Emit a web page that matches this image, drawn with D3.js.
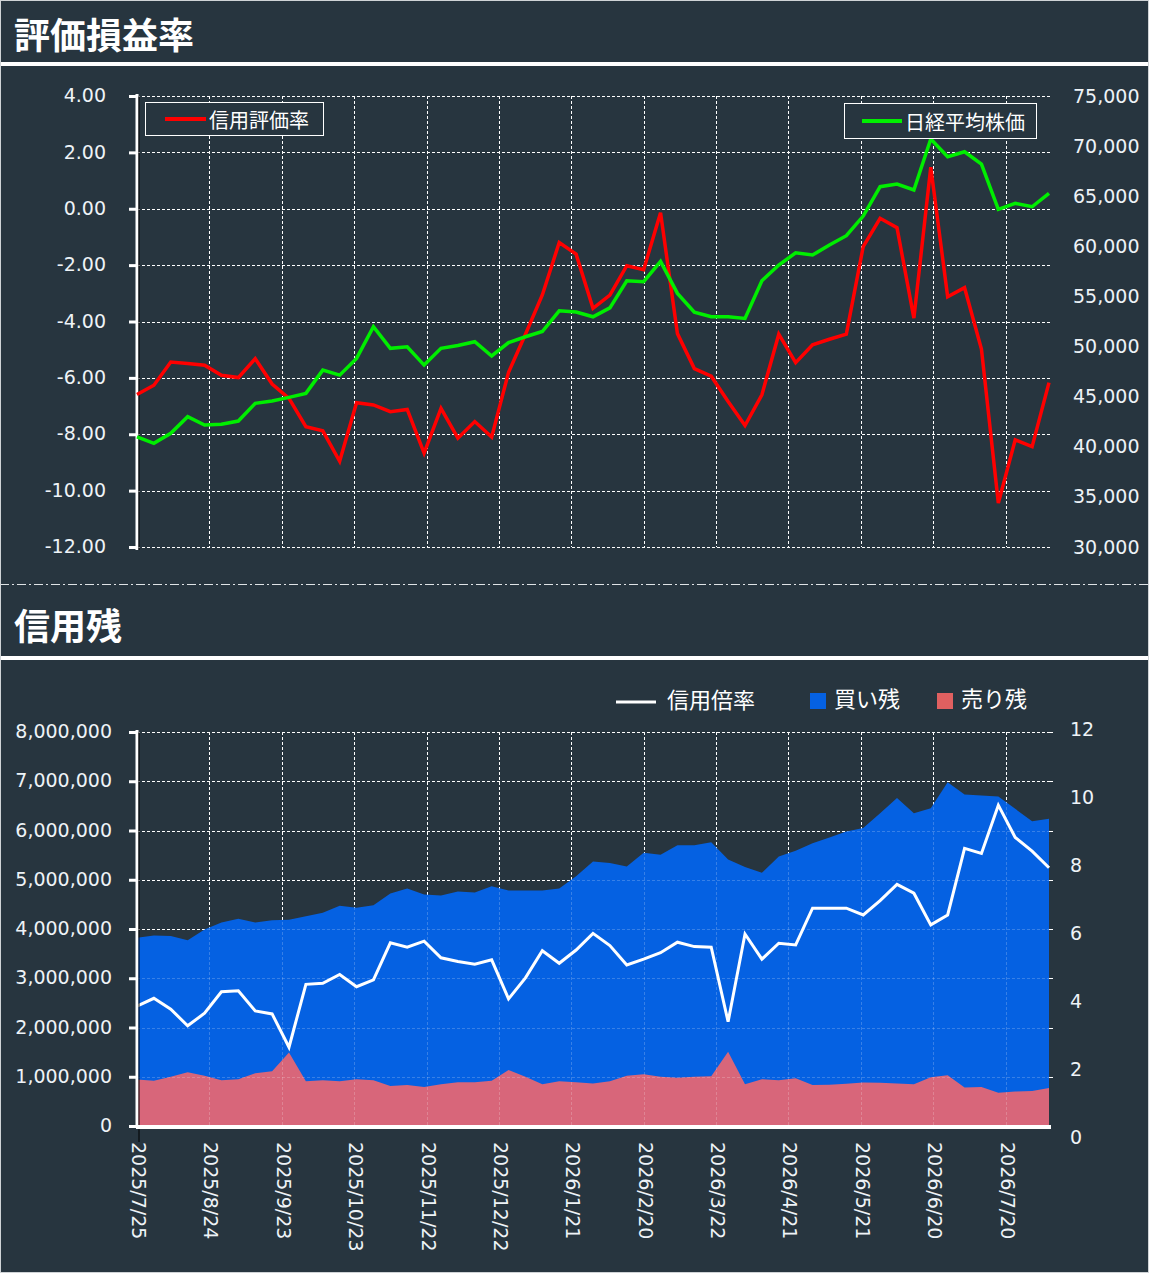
<!DOCTYPE html>
<html>
<head>
<meta charset="utf-8">
<script src="https://cdn.jsdelivr.net/npm/d3@7/dist/d3.min.js"></script>
<style>
  html, body { margin: 0; padding: 0; background: #27353f; }
  svg { display: block; }
  .num { font-family: "DejaVu Sans", sans-serif; font-size: 19px; fill: #eef3f7; }
  .jp { font-family: "Noto Sans CJK JP", sans-serif; fill: #ffffff; }
</style>
</head>
<body>
<svg id="chart" width="1149" height="1273"></svg>
<script>
// ---------------- DATA ----------------
const dates = [
  "2025-07-25","2025-08-01","2025-08-08","2025-08-15","2025-08-22","2025-08-29","2025-09-05","2025-09-12",
  "2025-09-19","2025-09-26","2025-10-03","2025-10-10","2025-10-17","2025-10-24","2025-10-31","2025-11-07",
  "2025-11-14","2025-11-21","2025-11-28","2025-12-05","2025-12-12","2025-12-19","2025-12-26","2026-01-02",
  "2026-01-09","2026-01-16","2026-01-23","2026-01-30","2026-02-06","2026-02-13","2026-02-20","2026-02-27",
  "2026-03-06","2026-03-13","2026-03-20","2026-03-27","2026-04-03","2026-04-10","2026-04-17","2026-04-24",
  "2026-05-01","2026-05-08","2026-05-15","2026-05-22","2026-05-29","2026-06-05","2026-06-12","2026-06-19",
  "2026-06-26","2026-07-03","2026-07-10","2026-07-17","2026-07-24","2026-07-31","2026-08-07"
];
// 信用評価率 (%)
const marginRate = [
  -6.59,-6.26,-5.44,-5.49,-5.55,-5.91,-5.99,-5.32,-6.22,-6.73,
  -7.73,-7.88,-8.96,-6.88,-6.96,-7.20,-7.12,-8.67,-7.08,-8.14,
  -7.55,-8.10,-5.80,-4.45,-3.06,-1.20,-1.61,-3.53,-3.06,-2.02,
  -2.16,-0.14,-4.43,-5.67,-5.94,-6.84,-7.69,-6.60,-4.45,-5.46,
  -4.83,-4.63,-4.45,-1.34,-0.34,-0.67,-3.88,1.47,-3.12,-2.80,
  -4.98,-10.44,-8.20,-8.44,-6.17
];
// 日経平均株価
const nikkei = [
  41000,40340,41340,43000,42170,42240,42570,44330,44560,44930,
  45330,47650,47150,48820,51980,49820,49980,48150,49820,50100,
  50480,49060,50400,50980,51500,53570,53440,52970,53860,56570,
  56470,58500,55300,53440,52970,52970,52810,56570,58130,59360,
  59130,60130,61060,63020,65950,66220,65620,70710,68940,69440,
  68210,63690,64290,63950,65290
];
// 買い残 (株)
const buyBalance = [
  3820000,3870000,3860000,3770000,3990000,4130000,4210000,4130000,4180000,4190000,
  4260000,4330000,4470000,4430000,4480000,4720000,4820000,4700000,4680000,4760000,
  4740000,4870000,4780000,4780000,4780000,4820000,5070000,5370000,5340000,5270000,
  5550000,5510000,5700000,5700000,5760000,5410000,5260000,5140000,5470000,5590000,
  5740000,5860000,5980000,6050000,6350000,6660000,6350000,6450000,6980000,6730000,
  6710000,6690000,6440000,6190000,6240000
];
// 売り残 (株)
const sellBalance = [
  946000,920000,1000000,1090000,1020000,930000,950000,1070000,1110000,1490000,
  910000,930000,910000,950000,930000,810000,830000,790000,850000,890000,
  890000,920000,1135000,1000000,850000,910000,890000,865000,910000,1020000,
  1050000,1000000,980000,1000000,1010000,1510000,850000,950000,930000,970000,
  830000,840000,860000,885000,880000,865000,850000,990000,1030000,780000,
  790000,675000,700000,710000,770000
];
// 信用倍率
const ratio = [
  3.85,4.08,3.76,3.27,3.64,4.27,4.30,3.71,3.62,2.64,
  4.49,4.52,4.78,4.42,4.62,5.71,5.58,5.76,5.27,5.16,
  5.08,5.21,4.06,4.68,5.48,5.11,5.50,5.99,5.63,5.06,
  5.23,5.42,5.73,5.60,5.58,3.39,5.97,5.23,5.70,5.65,
  6.73,6.73,6.73,6.53,6.95,7.43,7.17,6.24,6.53,8.49,
  8.34,9.76,8.81,8.41,7.92
];
const xTickLabels = ["2025/7/25","2025/8/24","2025/9/23","2025/10/23","2025/11/22","2025/12/22",
  "2026/1/21","2026/2/20","2026/3/22","2026/4/21","2026/5/21","2026/6/20","2026/7/20"];
const rateTicks = [-12,-10,-8,-6,-4,-2,0,2,4];
const nikkeiTicks = [30000,35000,40000,45000,50000,55000,60000,65000,70000,75000];
const balanceTicks = [0,1000000,2000000,3000000,4000000,5000000,6000000,7000000,8000000];
const ratioTicks = [0,2,4,6,8,10,12];

const titles = ["評価損益率", "信用残"];
const legendTop = ["信用評価率", "日経平均株価"];
const legendBottom = ["信用倍率", "買い残", "売り残"];

// ---------------- SETUP ----------------
const locale = d3.formatLocale({decimal: ".", thousands: ",", grouping: [3], currency: ["", ""], minus: "-"});
const parse = d3.utcParse("%Y-%m-%d");
const parseSlash = d3.utcParse("%Y/%m/%d");
const dateObjs = dates.map(parse);
const tickDates = xTickLabels.map(parseSlash);
const fmtDate = d3.utcFormat("%Y/%-m/%-d");

const BG = "#27353f";
const svg = d3.select("#chart");

svg.append("rect").attr("x",0).attr("y",0).attr("width",1149).attr("height",1273).attr("fill",BG);

const L = 137, R = 1049;
const x = d3.scaleUtc().domain([dateObjs[0], dateObjs[dateObjs.length-1]]).range([L, R]);

// ---------- Titles / separators ----------
svg.append("text").attr("class","jp").attr("x",14).attr("y",33)
  .attr("dominant-baseline","central").style("font-size","36px").style("font-weight","700")
  .text(titles[0]);
svg.append("rect").attr("x",0).attr("y",62).attr("width",1149).attr("height",4).attr("fill","#ffffff");

svg.append("line").attr("x1",0).attr("x2",1149).attr("y1",584.5).attr("y2",584.5)
  .attr("stroke","#dfe3e6").attr("stroke-width",1).attr("stroke-dasharray","9,3,2,3");

svg.append("text").attr("class","jp").attr("x",14).attr("y",624)
  .attr("dominant-baseline","central").style("font-size","36px").style("font-weight","700")
  .text(titles[1]);
svg.append("rect").attr("x",0).attr("y",656).attr("width",1149).attr("height",4).attr("fill","#ffffff");

// ================= TOP CHART =================
const T1 = 96, B1 = 547;
const yL = d3.scaleLinear().domain([-12, 4]).range([B1, T1]);
const yR = d3.scaleLinear().domain([30000, 75000]).range([B1, T1]);

const g1 = svg.append("g");
// gridlines
const grid1 = g1.append("g").attr("stroke","#ffffff").attr("stroke-width",1).attr("stroke-dasharray","3,2");
grid1.selectAll("line.h").data(rateTicks).join("line")
  .attr("x1", L).attr("x2", R + 2).attr("y1", d => Math.round(yL(d)) + 0.5).attr("y2", d => Math.round(yL(d)) + 0.5);
grid1.selectAll("line.v").data(tickDates.slice(1)).join("line")
  .attr("x1", d => Math.round(x(d)) + 0.5).attr("x2", d => Math.round(x(d)) + 0.5).attr("y1", T1).attr("y2", B1);

// left axis
const axL = d3.axisLeft(yL).tickValues(rateTicks).tickFormat(locale.format(".2f")).tickSize(8).tickPadding(23);
const gL = g1.append("g").attr("transform", `translate(${L},0)`).call(axL);
gL.select(".domain").remove();
gL.selectAll(".tick line").attr("stroke","#ffffff").attr("stroke-width",3);
gL.selectAll(".tick text").attr("class","num").attr("fill",null).attr("dy","0.3em");
g1.append("line").attr("x1",L).attr("x2",L).attr("y1",T1-2).attr("y2",B1+3).attr("stroke","#ffffff").attr("stroke-width",3);
g1.append("line").attr("x1",L+2).attr("x2",L+2).attr("y1",T1).attr("y2",B1+3).attr("stroke","#000000").attr("stroke-width",1);

// right axis
const axR = d3.axisRight(yR).tickValues(nikkeiTicks).tickFormat(locale.format(",")).tickSize(0).tickPadding(24);
const gR = g1.append("g").attr("transform", `translate(${R},0)`).call(axR);
gR.select(".domain").remove();
gR.selectAll(".tick text").attr("class","num").attr("fill",null);

// lines
const lineRate = d3.line().x((d,i) => x(dateObjs[i])).y(d => yL(d));
const lineNikkei = d3.line().x((d,i) => x(dateObjs[i])).y(d => yR(d));
g1.append("path").datum(marginRate).attr("d", lineRate)
  .attr("fill","none").attr("stroke","#ff0000").attr("stroke-width",3.5);
g1.append("path").datum(nikkei).attr("d", lineNikkei)
  .attr("fill","none").attr("stroke","#00ee00").attr("stroke-width",3.5);

// legends
const lg1 = g1.append("g");
lg1.append("rect").attr("x",145.5).attr("y",102.5).attr("width",178).attr("height",33)
  .attr("fill",BG).attr("stroke","#ffffff").attr("stroke-width",1);
lg1.append("line").attr("x1",165).attr("x2",206).attr("y1",119).attr("y2",119).attr("stroke","#ff0000").attr("stroke-width",4);
lg1.append("text").attr("class","jp").attr("x",209).attr("y",119).attr("dominant-baseline","central")
  .style("font-size","20px").text(legendTop[0]);

const lg2 = g1.append("g");
lg2.append("rect").attr("x",844.5).attr("y",103.5).attr("width",192).attr("height",35)
  .attr("fill",BG).attr("stroke","#ffffff").attr("stroke-width",1);
lg2.append("line").attr("x1",862).attr("x2",902).attr("y1",121).attr("y2",121).attr("stroke","#00ee00").attr("stroke-width",4);
lg2.append("text").attr("class","jp").attr("x",905).attr("y",121).attr("dominant-baseline","central")
  .style("font-size","20px").text(legendTop[1]);

// ================= BOTTOM CHART =================
const T2 = 732, B2 = 1126;
const yB = d3.scaleLinear().domain([0, 8000000]).range([B2, T2]);
const yQ = d3.scaleLinear().domain([0, 12]).range([1137, 729]);

const g2 = svg.append("g");
function drawGrid2(parent, stroke, op) {
  const gg = parent.append("g").attr("stroke", stroke).attr("stroke-opacity", op)
    .attr("stroke-width",1).attr("stroke-dasharray","3,2");
  gg.selectAll("line.h").data(balanceTicks.slice(1)).join("line")
    .attr("x1", L).attr("x2", R + 2).attr("y1", d => Math.round(yB(d)) + 0.5).attr("y2", d => Math.round(yB(d)) + 0.5);
  gg.selectAll("line.v").data(tickDates.slice(1)).join("line")
    .attr("x1", d => Math.round(x(d)) + 0.5).attr("x2", d => Math.round(x(d)) + 0.5).attr("y1", T2).attr("y2", B2);
}
drawGrid2(g2, "#ffffff", 1);

const areaBuy = d3.area().x((d,i) => x(dateObjs[i])).y0(yB(0)).y1(d => yB(d));
g2.append("path").datum(buyBalance).attr("d", areaBuy).attr("fill","#0561e2");
g2.append("path").datum(sellBalance).attr("d", areaBuy).attr("fill","#d8667a");

drawGrid2(g2, "#ffffff", 0.2);

// ratio line
const lineRatio = d3.line().x((d,i) => x(dateObjs[i])).y(d => yQ(d));
g2.append("path").datum(ratio).attr("d", lineRatio)
  .attr("fill","none").attr("stroke","#ffffff").attr("stroke-width",3);

// left axis
const axB = d3.axisLeft(yB).tickValues(balanceTicks).tickFormat(locale.format(",")).tickSize(8).tickPadding(17);
const gB = g2.append("g").attr("transform", `translate(${L},0)`).call(axB);
gB.select(".domain").remove();
gB.selectAll(".tick line").attr("stroke","#ffffff").attr("stroke-width",3);
gB.selectAll(".tick text").attr("class","num").attr("fill",null).attr("dy","0.3em");
g2.append("line").attr("x1",L).attr("x2",L).attr("y1",T2-2).attr("y2",B2+2).attr("stroke","#ffffff").attr("stroke-width",3);
g2.append("line").attr("x1",L+2).attr("x2",L+2).attr("y1",T2).attr("y2",1142).attr("stroke","#000000").attr("stroke-width",1);

// right axis labels and ticks
const axQ = d3.axisRight(yQ).tickValues(ratioTicks).tickFormat(locale.format("d")).tickSize(0).tickPadding(21);
const gQ = g2.append("g").attr("transform", `translate(${R},0)`).call(axQ);
gQ.select(".domain").remove();
gQ.selectAll(".tick text").attr("class","num").attr("fill",null);
g2.append("g").selectAll("line").data(balanceTicks.slice(1)).join("line")
  .attr("x1", R).attr("x2", R + 4).attr("y1", d => Math.round(yB(d)) + 0.5).attr("y2", d => Math.round(yB(d)) + 0.5)
  .attr("stroke","#ffffff").attr("stroke-width",1);

// bottom axis
g2.append("line").attr("x1",L-1).attr("x2",R+2).attr("y1",B2+1).attr("y2",B2+1).attr("stroke","#ffffff").attr("stroke-width",4);
const axX = d3.axisBottom(x).tickValues(tickDates).tickFormat(fmtDate).tickSize(0);
const gX = g2.append("g").attr("transform", `translate(0,${B2})`).call(axX);
gX.select(".domain").remove();
gX.selectAll(".tick text").attr("class","num").attr("fill",null)
  .attr("transform","rotate(90)").attr("x",16).attr("y",0).attr("dy",null)
  .attr("text-anchor","start").attr("dominant-baseline","middle");

// bottom legend
const lg3 = g2.append("g");
lg3.append("line").attr("x1",616).attr("x2",656).attr("y1",702).attr("y2",702).attr("stroke","#ffffff").attr("stroke-width",3);
lg3.append("text").attr("class","jp").attr("x",667).attr("y",698).attr("dominant-baseline","central")
  .style("font-size","22px").text(legendBottom[0]);
lg3.append("rect").attr("x",810).attr("y",693).attr("width",16).attr("height",16).attr("fill","#0561e2");
lg3.append("text").attr("class","jp").attr("x",834).attr("y",697).attr("dominant-baseline","central")
  .style("font-size","22px").text(legendBottom[1]);
lg3.append("rect").attr("x",937).attr("y",693).attr("width",16).attr("height",16).attr("fill","#e06060");
lg3.append("text").attr("class","jp").attr("x",961).attr("y",697).attr("dominant-baseline","central")
  .style("font-size","22px").text(legendBottom[2]);

// outer frame
svg.append("rect").attr("x",0.5).attr("y",0.5).attr("width",1148).attr("height",1272)
  .attr("fill","none").attr("stroke","#cfd3d6").attr("stroke-width",1);
</script>
</body>
</html>
